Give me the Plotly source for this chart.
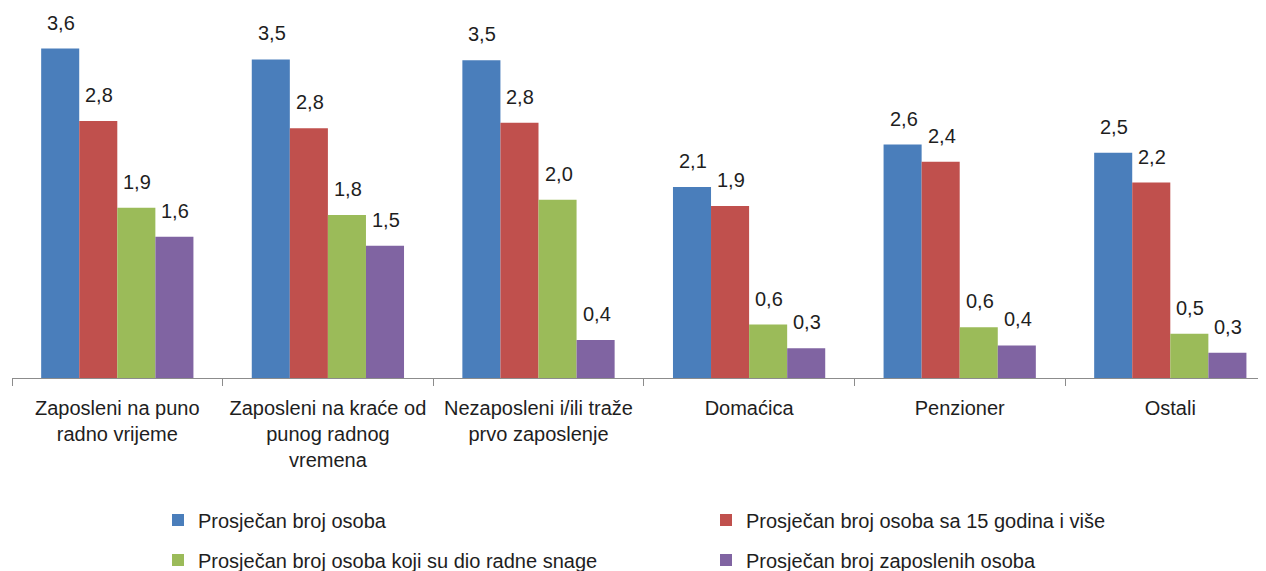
import plotly.graph_objects as go

# ---- data ----
categories = [
    "Zaposleni na puno radno vrijeme",
    "Zaposleni na kraće od punog radnog vremena",
    "Nezaposleni i/ili traže prvo zaposlenje",
    "Domaćica",
    "Penzioner",
    "Ostali",
]
tick_labels = [
    "Zaposleni na puno<br>radno vrijeme",
    "Zaposleni na kraće od<br>punog radnog<br>vremena",
    "Nezaposleni i/ili traže<br>prvo zaposlenje",
    "Domaćica",
    "Penzioner",
    "Ostali",
]
series_names = [
    "Prosječan broj osoba",
    "Prosječan broj osoba sa 15 godina i više",
    "Prosječan broj osoba koji su dio radne snage",
    "Prosječan broj zaposlenih osoba",
]
avg_persons = [3.64, 3.52, 3.51, 2.11, 2.58, 2.49]
avg_persons_15plus = [2.84, 2.76, 2.82, 1.90, 2.39, 2.16]
avg_labour_force = [1.88, 1.80, 1.97, 0.59, 0.56, 0.49]
avg_employed = [1.56, 1.46, 0.42, 0.33, 0.36, 0.28]
# labels shown on the chart
labels_persons = ["3,6", "3,5", "3,5", "2,1", "2,6", "2,5"]
labels_15plus = ["2,8", "2,8", "2,8", "1,9", "2,4", "2,2"]
labels_labour = ["1,9", "1,8", "2,0", "0,6", "0,6", "0,5"]
labels_employed = ["1,6", "1,5", "0,4", "0,3", "0,4", "0,3"]

colors = ["#4A7EBB", "#C0504D", "#9BBB59", "#8064A2"]

series_values = [avg_persons, avg_persons_15plus, avg_labour_force, avg_employed]
series_labels = [labels_persons, labels_15plus, labels_labour, labels_employed]

FONT = "Liberation Sans, Arial, sans-serif"
TXT = "#1e1e1e"

# the page body has an 8px margin, so the figure is 8px smaller
W, H = 1258, 563
ML, MR, MT, MB = 4, 0, 2, 193
plot_w = W - ML - MR
plot_h = H - MT - MB
cat_px = 210.6
px_per_unit = 90.5
x_range = [-0.5, -0.5 + plot_w / cat_px]
y_range = [0, plot_h / px_per_unit]

bargap = 0.277
bar_px = cat_px * (1 - bargap) / 4

fig = go.Figure()
legends = ["legend", "legend", "legend2", "legend2"]
for i, (name, vals) in enumerate(zip(series_names, series_values)):
    fig.add_trace(go.Bar(
        x=categories, y=vals, name=name,
        marker=dict(color=colors[i], line=dict(width=0)),
        legend=legends[i],
        hoverinfo="skip",
    ))

annotations = []
for i, labs in enumerate(series_labels):
    for j, cat in enumerate(categories):
        annotations.append(dict(
            x=cat, y=series_values[i][j], xref="x", yref="y",
            text=labs[j], showarrow=False,
            xshift=(i - 1.5) * bar_px + 1, yshift=26,
            yanchor="middle", xanchor="center",
            font=dict(family=FONT, size=20, color=TXT),
        ))

legend_common = dict(
    orientation="h", xref="container", yref="container",
    xanchor="left", yanchor="middle",
    entrywidth=503, entrywidthmode="pixels",
    font=dict(family=FONT, size=20, color=TXT),
    bgcolor="rgba(0,0,0,0)", borderwidth=0,
    traceorder="normal",
)

fig.update_layout(
    width=W, height=H,
    margin=dict(l=ML, r=MR, t=MT, b=MB),
    paper_bgcolor="white", plot_bgcolor="white",
    barmode="group", bargap=bargap, bargroupgap=0,
    font=dict(family=FONT, size=20, color=TXT),
    annotations=annotations,
    xaxis=dict(
        type="category", range=x_range,
        tickmode="array", tickvals=categories, ticktext=tick_labels,
        showline=True, linecolor="#8c8c8c", linewidth=1,
        ticks="outside", tickson="boundaries", ticklen=7, tickcolor="#8c8c8c",
        ticklabelstandoff=12,
        tickfont=dict(family=FONT, size=20, color=TXT),
        showgrid=False, zeroline=False, fixedrange=True, automargin=False,
    ),
    yaxis=dict(range=y_range, visible=False, showgrid=False, zeroline=False),
    legend=dict(legend_common, x=150 / W, y=1 - 512 / H),
    legend2=dict(legend_common, x=150 / W, y=1 - 552 / H),
)

fig.write_html("out.html")
